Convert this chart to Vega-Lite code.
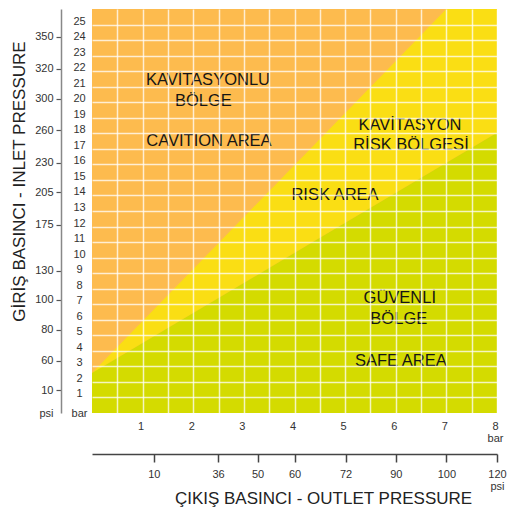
{
  "$schema": "https://vega.github.io/schema/vega-lite/v6.json",
  "width": 405,
  "height": 404,
  "autosize": "none",
  "padding": {"left": 92, "top": 9, "right": 12, "bottom": 99},
  "background": "white",
  "config": {
    "view": {"stroke": null, "fill": "#FDBB4E"},
    "font": "Liberation Sans",
    "axis": {"labelFont": "Liberation Sans", "titleFont": "Liberation Sans", "labelColor": "#333333", "titleColor": "#222222", "titleFontWeight": "normal", "labelOverlap": false, "labelFlush": false}
  },
  "datasets": {
    "yellow": [
      {"x": 0, "y": 2.57, "y2": 2.57},
      {"x": 7, "y": 16.11, "y2": 26},
      {"x": 8, "y": 18.04, "y2": 26}
    ],
    "green": [
      {"x": 0, "y": 0, "y2": 2.57},
      {"x": 8, "y": 0, "y2": 18.04}
    ],
    "labels": [
      {"label": "KAVİTASYONLU", "x": 2.29, "y": 21.4},
      {"label": "BÖLGE", "x": 2.2, "y": 20.05},
      {"label": "CAVITION AREA", "x": 2.31, "y": 17.48},
      {"label": "KAVİTASYON", "x": 6.28, "y": 18.55},
      {"label": "RİSK BÖLGESİ", "x": 6.3, "y": 17.27},
      {"label": "RISK AREA", "x": 4.8, "y": 14.05},
      {"label": "GÜVENLİ", "x": 6.08, "y": 7.4},
      {"label": "BÖLGE", "x": 6.06, "y": 6.05},
      {"label": "SAFE AREA", "x": 6.1, "y": 3.32}
    ]
  },
  "layer": [
    {
      "data": {"name": "yellow"},
      "mark": {"type": "area", "color": "#FADE14", "opacity": 1},
      "encoding": {
        "x": {
          "field": "x", "type": "quantitative",
          "scale": {"domain": [0, 8], "nice": false, "zero": false},
          "axis": {
            "orient": "bottom",
            "values": [0.5, 1, 1.5, 2, 2.5, 3, 3.5, 4, 4.5, 5, 5.5, 6, 6.5, 7, 7.5, 8],
            "labelExpr": "datum.value == 8 ? ['8', 'bar'] : (datum.value % 1 == 0 ? '' + datum.value : '')",
            "grid": true, "gridColor": "white", "gridOpacity": 0.75, "gridWidth": 1.5,
            "domain": false, "ticks": false, "tickSize": 0,
            "labelPadding": 7, "labelFontSize": 11, "labelOffset": -2, "labelLineHeight": 12,
            "title": null, "zindex": 1
          }
        },
        "y": {
          "field": "y", "type": "quantitative",
          "scale": {"domain": [0, 26], "nice": false, "zero": false},
          "axis": {
            "orient": "left",
            "values": [0, 1, 2, 3, 4, 5, 6, 7, 8, 9, 10, 11, 12, 13, 14, 15, 16, 17, 18, 19, 20, 21, 22, 23, 24, 25],
            "labelExpr": "datum.value == 0 ? 'bar' : '' + datum.value",
            "grid": true, "gridColor": "white", "gridWidth": 1.5,
            "gridOpacity": {"condition": {"test": "datum.value == 0", "value": 0}, "value": 0.75},
            "domain": false, "ticks": false, "tickSize": 0,
            "labelAlign": "center", "labelBaseline": "middle", "labelPadding": 13, "labelFontSize": 11,
            "labelOffset": {"condition": {"test": "datum.value == 0", "value": 0}, "value": -3.5},
            "title": null, "zindex": 1
          }
        },
        "y2": {"field": "y2"}
      }
    },
    {
      "data": {"name": "green"},
      "mark": {"type": "area", "color": "#D4DB00", "opacity": 1},
      "encoding": {
        "x": {
          "field": "x", "type": "quantitative",
          "scale": {"domain": [0, 8], "nice": false, "zero": false},
          "axis": {
            "orient": "bottom", "offset": 41,
            "values": [1.22, 2.49, 3.27, 4, 5.01, 6, 7, 8],
            "labelExpr": "['10', '36', '50', '60', '72', '90', '100', ['120', 'psi']][indexof([1.22, 2.49, 3.27, 4, 5.01, 6, 7, 8], datum.value)]",
            "grid": false,
            "domain": true, "domainColor": "#444444", "domainWidth": 1.5,
            "ticks": true, "tickSize": 8, "tickColor": "#444444", "tickWidth": 1.5,
            "labelPadding": 6, "labelFontSize": 11, "labelLineHeight": 12,
            "title": "ÇIKIŞ BASINCI - OUTLET PRESSURE", "titleFontSize": 17,
            "titleX": 231, "titleY": 44, "titleBaseline": "middle", "titleAlign": "center"
          }
        },
        "y": {
          "field": "y", "type": "quantitative",
          "scale": {"domain": [0, 26], "nice": false, "zero": false},
          "axis": {
            "orient": "left", "offset": 31,
            "values": [0, 1.45, 3.37, 5.36, 7.29, 9.16, 12.12, 14.2, 16.09, 18.19, 20.23, 22.16, 24.23],
            "labelExpr": "['psi', '10', '60', '80', '100', '130', '175', '205', '230', '260', '300', '320', '350'][indexof([0, 1.45, 3.37, 5.36, 7.29, 9.16, 12.12, 14.2, 16.09, 18.19, 20.23, 22.16, 24.23], datum.value)]",
            "grid": false,
            "domain": true, "domainColor": "#888888", "domainWidth": 1.5,
            "ticks": true, "tickSize": 5, "tickColor": "#555555", "tickWidth": 1.2,
            "tickOpacity": {"condition": {"test": "datum.value == 0", "value": 0}, "value": 1},
            "labelAlign": "right", "labelBaseline": "middle", "labelPadding": 3, "labelFontSize": 11,
            "title": "GİRİŞ BASINCI - INLET PRESSURE", "titleFontSize": 17, "titlePadding": 6,
            "titleY": 172
          }
        },
        "y2": {"field": "y2"}
      }
    },
    {
      "data": {"name": "labels"},
      "mark": {"type": "text", "font": "Liberation Sans", "fontSize": 16.5, "color": "#151515", "baseline": "middle", "align": "center", "zindex": 2},
      "encoding": {
        "x": {"field": "x", "type": "quantitative", "scale": {"domain": [0, 8], "nice": false, "zero": false}, "axis": null},
        "y": {"field": "y", "type": "quantitative", "scale": {"domain": [0, 26], "nice": false, "zero": false}, "axis": null},
        "text": {"field": "label"}
      }
    }
  ],
  "resolve": {"axis": {"x": "independent", "y": "independent"}}
}
